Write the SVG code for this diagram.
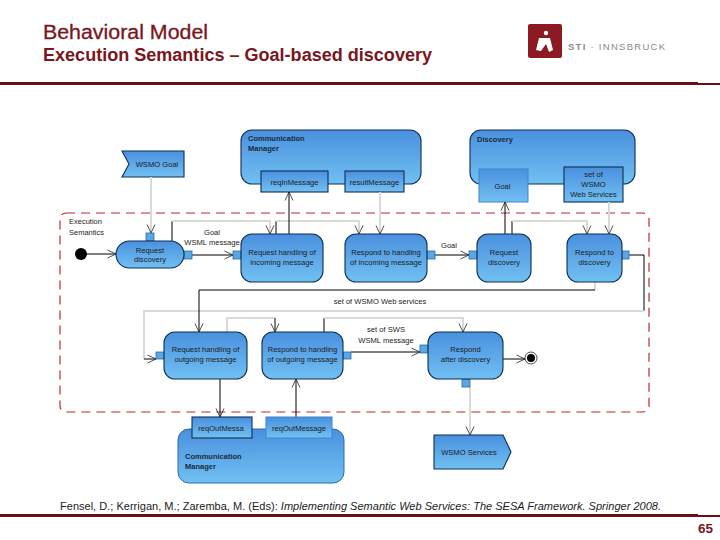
<svg xmlns="http://www.w3.org/2000/svg" width="720" height="540" viewBox="0 0 720 540">
<style>
text{font-family:"Liberation Sans",Arial,sans-serif;fill:#1c1c1c}
.t{font-size:7.6px;text-anchor:middle}
.l{font-size:7.5px}
.b{font-size:7.5px;font-weight:bold;fill:#1a2a3a}
.h{fill:#7a1520;font-weight:bold}
.n{fill:url(#g);stroke:#0c2f55;stroke-width:1.1}
.f{fill:url(#g);stroke:#3f86c8;stroke-width:1}
.p{fill:#5da6e4;stroke:#2a6aa8;stroke-width:.8}
.k{fill:none;stroke:#000;stroke-width:1}
.y{fill:none;stroke:#d9d9d9;stroke-width:2}
.a{marker-end:url(#o)}
</style>
<defs>
<linearGradient id="g" x1="0" y1="0" x2="0" y2="1"><stop offset="0" stop-color="#4a90de"/><stop offset="1" stop-color="#71c0f2"/></linearGradient>
<marker id="o" markerUnits="userSpaceOnUse" markerWidth="12" markerHeight="12" refX="10" refY="6" orient="auto"><path d="M1.500 2 L10 6 L1.500 10" fill="none" stroke="#222" stroke-width=".8"/></marker>
</defs>
<rect width="720" height="540" fill="#fff"/>

<g id="header">
<text class="h" x="43" y="39" font-size="20" style="font-weight:normal;stroke:#7a1520;stroke-width:.3" textLength="165" lengthAdjust="spacingAndGlyphs">Behavioral Model</text>
<text class="h" x="43" y="61" font-size="17.500" textLength="389" lengthAdjust="spacingAndGlyphs">Execution Semantics – Goal-based discovery</text>
<rect x="0" y="82" width="698" height="3" fill="#6b0f14"/><rect x="698" y="83" width="22" height="2" fill="#6b0f14"/>
<rect x="528" y="24" width="34" height="34" rx="2" fill="#8b1a22"/>
<circle cx="546" cy="33" r="2.200" fill="#fff"/>
<path d="M539 38 H550 L553 50 L549 52 L546 44 L541 51 L536 50 Z" fill="#fff"/>
<text x="568" y="50" font-size="9.500" textLength="97" style="fill:#8a8a8a"><tspan font-weight="bold">STI</tspan> · INNSBRUCK</text>
</g>

<rect id="execution-semantics" x="60" y="213" width="589" height="199" rx="6" fill="none" stroke="#c0272d" stroke-width="1.200" stroke-dasharray="9 6"/>
<text class="l" x="69" y="224">Execution</text>
<text class="l" x="69" y="235">Semantics</text>

<g id="cm-top"><rect class="n" x="241" y="130" width="180" height="54" rx="11"/>
<text class="b" x="248" y="141">Communication</text><text class="b" x="248" y="151">Manager</text></g>
<g id="reqIn"><rect class="n" x="261" y="171" width="67" height="21"/><text class="t" x="294.500" y="185">reqInMessage</text></g>
<g id="resultMsg"><rect class="n" x="345" y="171" width="59" height="21"/><text class="t" x="374.500" y="185">resultMessage</text></g>
<g id="discovery-top"><rect class="n" x="470" y="130" width="165" height="54" rx="11"/>
<text class="b" x="477" y="142">Discovery</text></g>
<g id="goal-obj"><rect class="f" x="479" y="169" width="49" height="33"/><text class="t" x="502.500" y="189">Goal</text></g>
<g id="ws-set"><rect class="n" x="564" y="167" width="59" height="35"/><text class="t" x="593.500" y="177">set of</text><text class="t" x="593.500" y="187">WSMO</text><text class="t" x="593.500" y="197">Web Services</text></g>
<g id="wsmo-goal"><path class="n" d="M122 151 H184 V177 H122 L129 164 Z"/><text class="t" x="157" y="167">WSMO Goal</text></g>

<g id="connectors">
<path class="y a" d="M151 177 V233"/>
<path class="k a" d="M87 254 H116"/>
<path class="k a" d="M192 255 H233"/>
<path class="k" d="M172 241 V221"/><path class="y a" d="M172 221 H270 V234"/>
<path class="k" d="M276 234 V221"/><path class="y a" d="M276 221 H359 V234"/>
<path class="k a" d="M289 234 V192"/>
<path class="y a" d="M380 192 V234"/>
<path class="k a" d="M435 255 H469"/>
<path class="k a" d="M505 234 V202"/>
<path class="k" d="M512 234 V221"/><path class="y a" d="M512 221 H587 V234"/>
<path class="y a" d="M609 202 V234"/>
<path class="k" d="M629 255 H644 V311"/><path class="y" d="M644 311 H144 V359"/>
<path class="k a" d="M144 359 H156"/>
<path class="y" d="M595 282 V290"/><path class="k a" d="M595 290 H199 V332"/>
<path class="y" d="M227 332 V318 H275"/><path class="k a" d="M275 318 V332"/>
<path class="k" d="M324 332 V318"/><path class="y a" d="M324 318 H463 V332"/>
<path class="k a" d="M351 352 H420"/>
<path class="k a" d="M503 359 H525"/>
<path class="k a" d="M220 379 V417"/>
<path class="k a" d="M296 417 V379"/>
<path class="y a" d="M470 387 V435"/>
</g>

<g id="start"><circle cx="81" cy="254" r="6" fill="#000"/></g>
<g id="request-discovery"><rect class="p" x="146" y="233" width="8" height="8"/><rect class="p" x="184" y="251" width="8" height="8"/><rect class="n" x="116" y="241" width="68" height="27" rx="13.500"/><text class="t" x="150" y="253">Request</text><text class="t" x="150" y="262">discovery</text></g>
<g id="req-in"><rect class="p" x="233" y="251" width="8" height="8"/><rect class="n" x="241" y="234" width="82" height="48" rx="11"/><text class="t" x="282" y="255">Request handling of</text><text class="t" x="282" y="265">incoming message</text></g>
<g id="resp-in"><rect class="p" x="427" y="251" width="8" height="8"/><rect class="n" x="345" y="234" width="82" height="48" rx="11"/><text class="t" x="386" y="255">Respond to handling</text><text class="t" x="386" y="265">of incoming message</text></g>
<g id="req-disc"><rect class="p" x="469" y="251" width="8" height="8"/><rect class="n" x="477" y="234" width="54" height="48" rx="11"/><text class="t" x="504" y="255">Request</text><text class="t" x="504" y="265">discovery</text></g>
<g id="resp-disc"><rect class="p" x="622" y="251" width="7" height="8"/><rect class="n" x="567" y="234" width="55" height="48" rx="11"/><text class="t" x="594.500" y="255">Respond to</text><text class="t" x="594.500" y="265">discovery</text></g>
<g id="req-out"><rect class="p" x="156" y="352" width="8" height="7"/><rect class="n" x="164" y="332" width="83" height="47" rx="11"/><text class="t" x="205.500" y="352">Request handling of</text><text class="t" x="205.500" y="362">outgoing message</text></g>
<g id="resp-out"><rect class="p" x="343" y="352" width="8" height="7"/><rect class="n" x="262" y="332" width="81" height="47" rx="11"/><text class="t" x="302.500" y="352">Respond to handling</text><text class="t" x="302.500" y="362">of outgoing message</text></g>
<g id="resp-after"><rect class="p" x="420" y="345" width="8" height="8"/><rect class="p" x="462" y="379" width="8" height="8"/><rect class="n" x="428" y="332" width="75" height="47" rx="11"/><text class="t" x="465.500" y="352">Respond</text><text class="t" x="465.500" y="362">after discovery</text></g>
<g id="end"><circle cx="531" cy="358" r="6" fill="#fff" stroke="#000" stroke-width=".7"/><circle cx="531" cy="358" r="4" fill="#000"/></g>

<g id="cm-bottom"><rect class="f" x="178" y="429" width="166" height="54" rx="11" style="stroke:#2a6aa8"/><text class="b" x="185" y="459">Communication</text><text class="b" x="185" y="469">Manager</text></g>
<g id="reqOut1"><rect class="n" x="192" y="417" width="60" height="21"/><text class="t" x="221" y="431">reqOutMessa</text></g>
<g id="reqOut2"><rect class="f" x="266" y="417" width="66" height="21"/><text class="t" x="299" y="431">reqOutMessage</text></g>
<g id="wsmo-services"><path class="n" d="M434 435 H503 L511 452 L503 469 H434 Z"/><text class="t" x="469" y="455">WSMO Services</text></g>

<g id="labels">
<text class="t" x="212" y="235">Goal</text>
<text class="t" x="212" y="245">WSML message</text>
<text class="t" x="449" y="248">Goal</text>
<text class="t" x="380" y="304">set of WSMO Web services</text>
<text class="t" x="386" y="332">set of SWS</text>
<text class="t" x="386" y="343">WSML message</text>
</g>

<g id="footer">
<text x="60" y="510" font-size="11" textLength="601">Fensel, D.; Kerrigan, M.; Zaremba, M. (Eds): <tspan font-style="italic">Implementing Semantic Web Services: The SESA Framework. Springer 2008.</tspan></text>
<rect x="0" y="514" width="698" height="3" fill="#6b0f14"/><rect x="698" y="515" width="22" height="2" fill="#6b0f14"/>
<text class="h" x="698" y="533" font-size="13" textLength="15" lengthAdjust="spacingAndGlyphs">65</text>
</g>
</svg>
